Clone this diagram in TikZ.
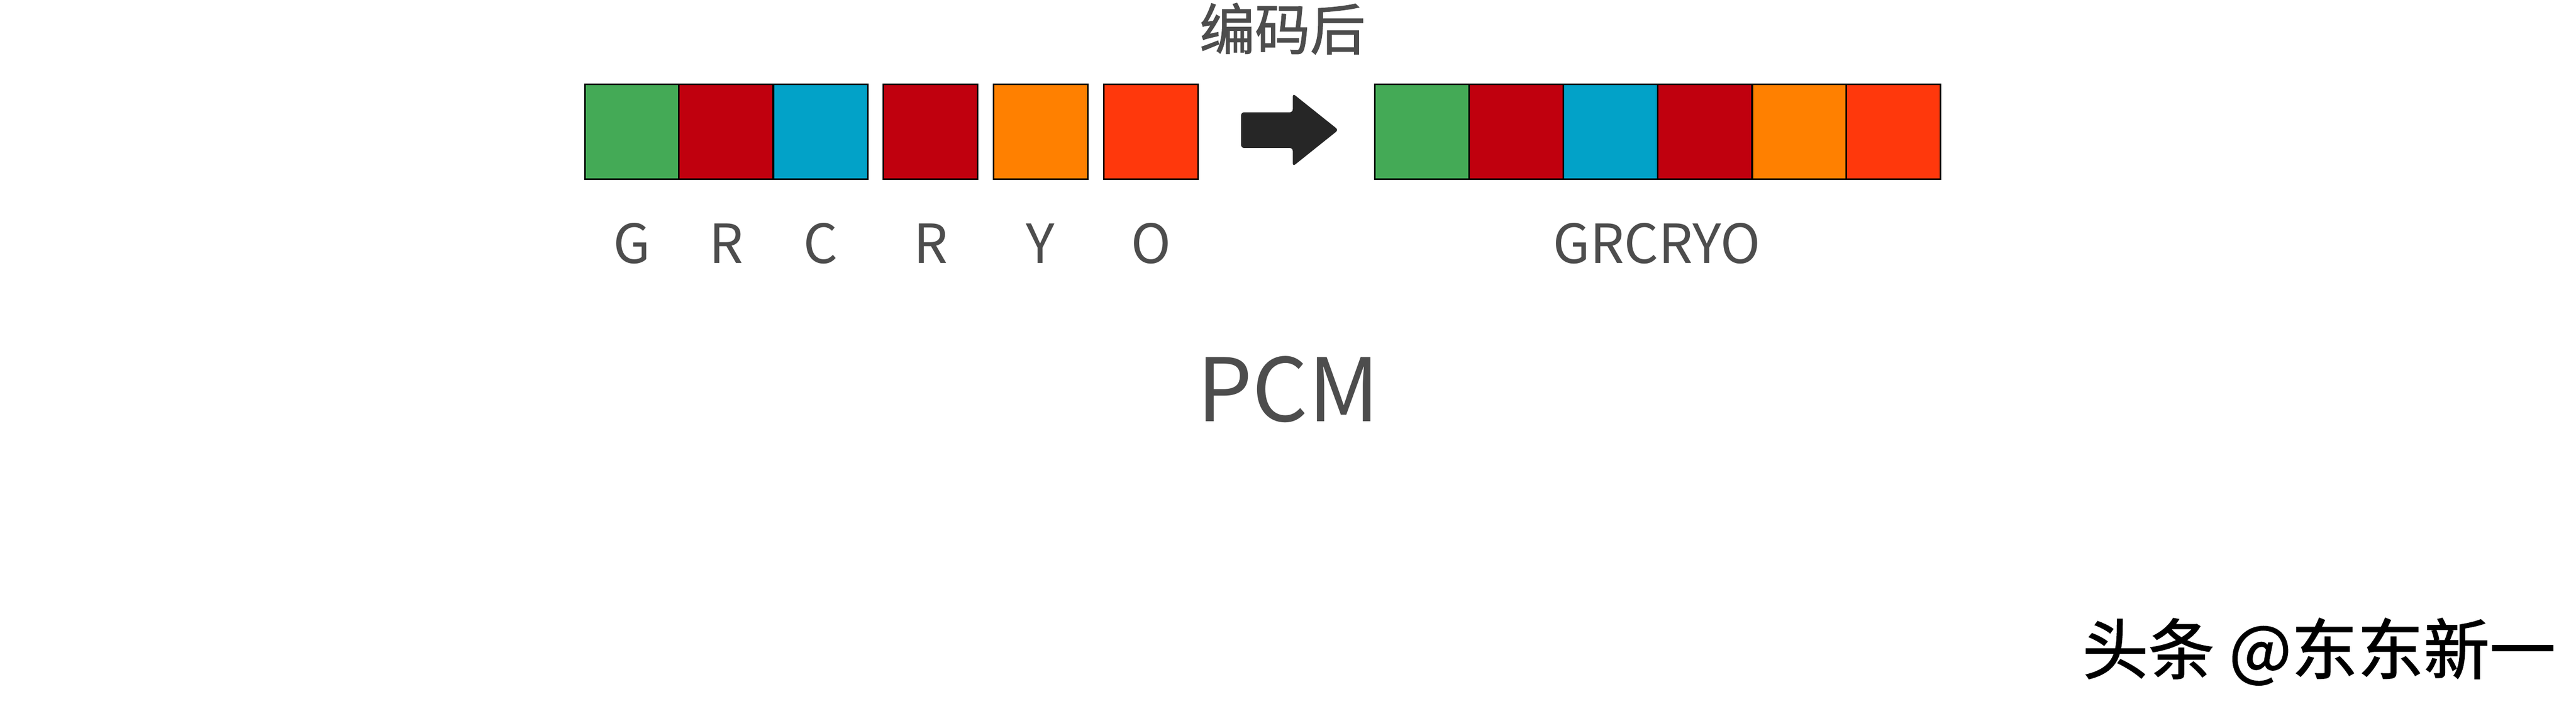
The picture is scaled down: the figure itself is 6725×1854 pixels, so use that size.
\documentclass[tikz,border=0pt]{standalone}
\usepackage{fontspec}
\setmainfont{Noto Sans CJK SC}
\newfontfamily\cjkfont{Noto Sans CJK SC}
\newfontfamily\cjkmed[FakeBold=1.3]{Noto Sans CJK SC}
\definecolor{cgreen}{RGB}{68,170,86}
\definecolor{cred}{RGB}{192,0,14}
\definecolor{ccyan}{RGB}{2,162,200}
\definecolor{corange}{RGB}{255,128,0}
\definecolor{credor}{RGB}{255,56,12}
\definecolor{tgray}{RGB}{77,77,77}
\definecolor{arrowc}{RGB}{38,38,38}
\tikzset{
  cell/.style={draw=black, line width=1.2pt, minimum width=2.46cm, minimum height=2.47cm, inner sep=0pt, outer sep=0pt},
  lab/.style={text=tgray, font=\fontsize{40}{44}\selectfont, anchor=base, inner sep=0pt},
}
\begin{document}
\begin{tikzpicture}[x=0.01cm,y=-0.01cm]
\useasboundingbox (0,0) rectangle (6725,1854);
\fill[white] (0,0) rectangle (6725,1854);
% left squares
\node[cell, fill=cgreen] (l1) at (1650,343.5) {};
\node[cell, fill=cred] (l2) at (1895.5,343.5) {};
\node[cell, fill=ccyan] (l3) at (2142.5,343.5) {};
\node[cell, fill=cred] (l4) at (2429.5,343.5) {};
\node[cell, fill=corange] (l5) at (2716.5,343.5) {};
\node[cell, fill=credor] (l6) at (3005,343.5) {};
% right squares
\node[cell, fill=cgreen] (r1) at (3712,343.5) {};
\node[cell, fill=cred] (r2) at (3958.5,343.5) {};
\node[cell, fill=ccyan] (r3) at (4205,343.5) {};
\node[cell, fill=cred] (r4) at (4451,343.5) {};
\node[cell, fill=corange] (r5) at (4697.5,343.5) {};
\node[cell, fill=credor] (r6) at (4943,343.5) {};
% arrow
\fill[arrowc, rounded corners=0.08cm] (3240,293) -- (3375,293) -- (3375,244) -- (3494,339) -- (3375,434) -- (3375,386) -- (3240,386) -- cycle;
% labels
\node[lab] (tg) at (1650,686) {G};
\node[lab] (tr) at (1895.5,686) {R};
\node[lab] (tc) at (2142.5,686) {C};
\node[lab] (tr2) at (2429.5,686) {R};
\node[lab] (ty) at (2716.5,686) {Y};
\node[lab] (to) at (3005,686) {O};
\node[lab] (tall) at (4325,686) {GRCRYO};
\node[text=tgray, font=\fontsize{41}{44}\selectfont\cjkmed, inner sep=0pt] (title) at (3348,75) {编码后};
\node[text=tgray, font=\fontsize{65}{70}\selectfont, anchor=base, inner sep=0pt] (pcm) at (3363,1099) {PCM};
\node[text=black, font=\fontsize{49}{54}\selectfont\cjkmed, inner sep=0pt] (wm) at (6054,1700) {头条 @东东新一};
\end{tikzpicture}
\end{document}
